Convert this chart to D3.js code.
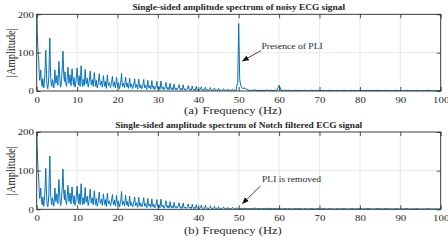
<!DOCTYPE html>
<html lang="en">
<head>
	<meta charset="UTF-8">
	<title>ECG amplitude spectrum</title>
	<script src="https://cdn.jsdelivr.net/npm/d3@7"></script>
	<style>
		body { margin: 0; background: #fff; }
		text { font-family: "Liberation Serif", "Times New Roman", serif; fill: #262626; }
	</style>
</head>
<body>

	<div id="viz-wrapper"></div>

	<script type="text/javascript">
    // spectrum below 50 Hz, one value every 0.125 Hz (starts at 0 Hz), 2.5 Hz per row
    var lowStep = 0.125;
    var lowAmps = [
      210,160,122,95,80,45,28,40,55,30,18,12,32,20,8,22,40,70,106,60,
      22,10,6,18,38,90,138,70,30,18,12,30,25,14,8,30,55,35,20,28,
      40,22,15,45,77,50,28,10,12,30,45,70,104,60,35,25,50,30,18,12,
      28,45,62,38,20,30,42,25,14,35,58,40,25,15,35,20,10,18,30,45,
      60,35,22,15,40,28,12,40,66,42,20,12,30,22,14,35,56,30,18,25,
      34,20,10,18,26,38,52,30,16,22,30,20,12,30,48,35,20,12,28,15,
      8,15,22,35,45,25,15,20,26,18,10,22,40,28,18,12,25,15,7,28,
      42,25,14,18,22,15,9,14,20,30,38,22,12,16,24,14,8,20,36,22,
      15,10,22,14,6,12,18,30,46,25,12,16,20,14,9,22,36,24,14,10,
      20,12,7,20,34,22,10,14,18,10,6,10,16,24,32,18,9,12,17,10,
      5,18,31,20,11,8,16,10,6,9,14,22,30,16,8,12,15,9,4,15,
      28,16,10,8,14,9,5,14,27,15,9,6,13,8,4,7,10,18,25,12,
      7,5,12,8,4,13,26,14,8,6,11,6,3,5,9,15,22,12,6,4,
      10,6,3,9,20,11,6,4,9,5,3,8,18,10,5,4,8,5,3,6,
      7,11,17,8,4,3,7,4,2,9,16,8,5,3,6,3,2,3,5,8,
      14,7,4,3,6,4,2,7,13,6,4,2,5,3,2,6,12,5,3,2,
      5,3,2,3,4,7,11,5,3,2,4,2,2,5,10,4,3,2,4,2,
      2,2,3,5,9,4,2,1,3,2,2,4,8,3,2,1,3,2,1,3,
      7,3,2,1,3,2,1,2,2,4,6,3,2,1,2,2,1,3,5,2,
      2,1,2,3,1,2,2,3,5,2,1,1,2,3,1,2,4,2,1,2
    ];

    // spectrum from 50 Hz to 100 Hz, one value every 0.5 Hz
    var highStart = 50, highStep = 0.5;
    var highAmps = [
      1,2,1,3,1,2,1,2,3,1,
      2,1,2,1,3,1,2,1,2,1,
      2,1,1,2,1,2,1,1,2,1,
      2,1,1,2,1,1,2,1,1,2,
      1,1,2,1,1,2,1,1,1,2,
      1,1,2,1,1,1,2,1,1,1,
      2,1,1,1,2,1,1,1,1,2,
      1,1,1,2,1,1,1,1,2,1,
      1,1,1,2,1,1,1,1,2,1,
      1,1,1,1,2,1,1,1,1,1,
      1
    ];

    // power line interference seen only in the noisy signal
    var pliFreqs = [49.5, 49.75, 50, 50.25, 50.5, 51, 51.5, 52, 59.5, 60, 60.5];
    var pliAmps  = [12, 22, 176, 30, 14, 6, 8, 4, 2, 15, 2];

    var xTicks = [0, 10, 20, 30, 40, 50, 60, 70, 80, 90, 100];
    var yTicks = [0, 100, 200];

    var titles = ["Single-sided amplitude spectrum of noisy ECG signal",
                  "Single-sided amplitude spectrum of Notch filtered ECG signal"];
    var subLabels = ["(a)", "(b)"];
    var notes = ["Presence of PLI", "PLI is removed"];

    // build the filtered spectrum points
    var filtered = [];
    lowAmps.forEach(function(a, i) { filtered.push({f: i * lowStep, a: a}); });
    highAmps.forEach(function(a, i) { filtered.push({f: highStart + i * highStep, a: a}); });

    // noisy one = filtered with the PLI region swapped in
    var noisy = filtered.filter(function(d) {
        return !((d.f >= 49.5 && d.f <= 52) || (d.f >= 59.5 && d.f <= 60.5));
      })
      .concat(pliFreqs.map(function(f, i) { return {f: f, a: pliAmps[i]}; }))
      .sort(function(a, b) { return a.f - b.f; });

    var width = 448, height = 243;
    var sx = 1.2;   // the original figure is stretched sideways
    var left = 36.7, right = 440.7;

    var panels = [
      {top: 14.3, bottom: 91, data: noisy, titleY: 9.8, labelY: 114,
       note: {x: 261.5, y: 48.5, x1: 261, y1: 50.5, x2: 242.5, y2: 61}},
      {top: 132, bottom: 209.3, data: filtered, titleY: 128.3, labelY: 234,
       note: {x: 262, y: 181.5, x1: 260.5, y1: 186, x2: 242.5, y2: 203.5}}
    ];

    var svg = d3.select("#viz-wrapper")
                .append("svg")
                .attr("width", width)
                .attr("height", height);

    svg.append("defs").append("marker")
        .attr("id", "arrow")
        .attr("viewBox", "0 0 10 10")
        .attr("refX", 9).attr("refY", 5)
        .attr("markerWidth", 7).attr("markerHeight", 7)
        .attr("markerUnits", "userSpaceOnUse")
        .attr("orient", "auto")
      .append("path")
        .attr("d", "M0,1 L10,5 L0,9 Z")
        .attr("fill", "#111");

    var x = d3.scaleLinear().domain([0, 100]).range([left, right]);

    panels.forEach(function(p, k) {
        var y = d3.scaleLinear().domain([0, 200]).range([p.bottom, p.top]);
        var g = svg.append("g");

        // grid
        g.selectAll(".vgrid").data(xTicks.slice(1, -1)).enter()
          .append("line")
            .attr("x1", x).attr("x2", x)
            .attr("y1", p.top).attr("y2", p.bottom)
            .attr("stroke", "#e3e3e3").attr("stroke-width", 0.8);
        g.append("line")
            .attr("x1", left).attr("x2", right)
            .attr("y1", y(100)).attr("y2", y(100))
            .attr("stroke", "#e3e3e3").attr("stroke-width", 0.8);

        // spectrum line, clipped to the plot box
        g.append("clipPath").attr("id", "clip" + k)
          .append("rect")
            .attr("x", left).attr("y", p.top)
            .attr("width", right - left).attr("height", p.bottom - p.top);

        var line = d3.line()
            .x(function(d) { return x(d.f); })
            .y(function(d) { return y(d.a); });

        g.append("path")
            .datum(p.data)
            .attr("clip-path", "url(#clip" + k + ")")
            .attr("d", line)
            .attr("fill", "none")
            .attr("stroke", "#0072BD")
            .attr("stroke-width", 1)
            .attr("stroke-linejoin", "round");

        // axes with inward ticks on all four sides
        var bottomAxis = g.append("g")
            .attr("transform", "translate(0," + p.bottom + ")")
            .call(d3.axisBottom(x).tickValues(xTicks).tickSizeInner(-4).tickSizeOuter(0).tickPadding(5.8));
        var leftAxis = g.append("g")
            .attr("transform", "translate(" + left + ",0)")
            .call(d3.axisLeft(y).tickValues(yTicks).tickSizeInner(-4).tickSizeOuter(0).tickPadding(2.8));
        g.append("g")
            .attr("transform", "translate(0," + p.top + ")")
            .call(d3.axisTop(x).tickValues(xTicks).tickSizeInner(-4).tickSizeOuter(0).tickFormat(""));
        g.append("g")
            .attr("transform", "translate(" + right + ",0)")
            .call(d3.axisRight(y).tickValues(yTicks).tickSizeInner(-4).tickSizeOuter(0).tickFormat(""));

        g.selectAll(".domain").remove();
        g.selectAll(".tick line").attr("stroke", "#262626").attr("stroke-width", 0.8);
        g.selectAll(".tick text")
            .attr("font-family", null)
            .style("font-size", "9px")
            .attr("fill", "#262626")
            .attr("transform", "scale(" + sx + ",1)");
        // scaling pushes the left labels outward, bring them back
        leftAxis.selectAll(".tick text").attr("x", -2.8 / sx);

        // box
        g.append("rect")
            .attr("x", left).attr("y", p.top)
            .attr("width", right - left).attr("height", p.bottom - p.top)
            .attr("fill", "none")
            .attr("stroke", "#262626").attr("stroke-width", 0.9);

        // title
        g.append("text")
            .attr("transform", "translate(" + ((left + right) / 2) + "," + p.titleY + ") scale(" + sx + ",1)")
            .attr("text-anchor", "middle")
            .style("font-size", "7.8px")
            .style("font-weight", "bold")
            .attr("fill", "#111")
            .text(titles[k]);

        // axis labels
        g.append("text")
            .attr("transform", "translate(184," + p.labelY + ") scale(" + sx + ",1)")
            .style("font-size", "10.5px")
            .text(subLabels[k]);
        g.append("text")
            .attr("transform", "translate(202.5," + p.labelY + ") scale(" + sx + ",1)")
            .style("font-size", "10.5px")
            .text("Frequency (Hz)");
        g.append("text")
            .attr("transform", "translate(15," + ((p.top + p.bottom) / 2) + ") scale(" + sx + ",1) rotate(-90)")
            .attr("text-anchor", "middle")
            .style("font-size", "10.5px")
            .text("|Amplitude|");

        // annotation with arrow
        g.append("text")
            .attr("transform", "translate(" + p.note.x + "," + p.note.y + ") scale(" + sx + ",1)")
            .style("font-size", "8px")
            .text(notes[k]);
        g.append("line")
            .attr("x1", p.note.x1).attr("y1", p.note.y1)
            .attr("x2", p.note.x2).attr("y2", p.note.y2)
            .attr("stroke", "#111").attr("stroke-width", 0.8)
            .attr("marker-end", "url(#arrow)");
    });
 	</script>

</body>
</html>
